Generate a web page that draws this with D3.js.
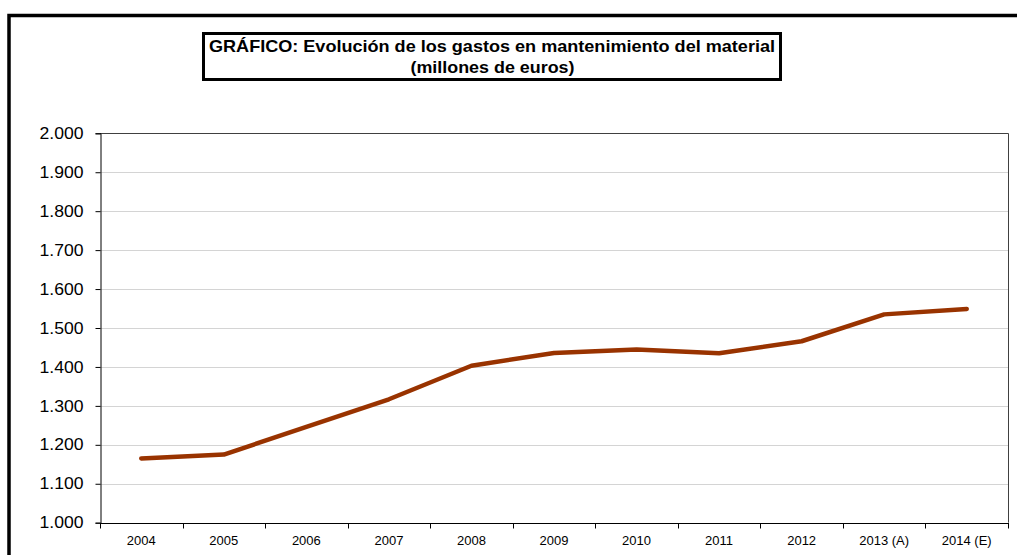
<!DOCTYPE html>
<html>
<head>
<meta charset="utf-8">
<script src="https://cdn.jsdelivr.net/npm/d3@7"></script>
<style>
  html, body { margin: 0; padding: 0; background: #fff; }
  svg { display: block; font-family: "Liberation Sans", Arial, sans-serif; }
</style>
</head>
<body>
<svg id="chart" width="1017" height="555"></svg>
<script>
const categories = ["2004", "2005", "2006", "2007", "2008", "2009", "2010", "2011", "2012", "2013 (A)", "2014 (E)"];
const values = [1165, 1175, 1246, 1317, 1403, 1436, 1445, 1435, 1466, 1535, 1549];
const yTicks = [1000, 1100, 1200, 1300, 1400, 1500, 1600, 1700, 1800, 1900, 2000];
const titleLines = ["GRÁFICO: Evolución de los gastos en mantenimiento del material", "(millones de euros)"];

const svg = d3.select("#chart");
const W = 1017, H = 555;
const plot = { left: 100, right: 1008, top: 133.3, bottom: 522.7 };

// outer frame (left & top edges visible)
svg.append("path")
  .attr("d", `M9,${H + 5} L9,15.5 L${W + 5},15.5`)
  .attr("fill", "none").attr("stroke", "#000").attr("stroke-width", 3.5);

// title box
svg.append("rect")
  .attr("x", 203.5).attr("y", 33.5).attr("width", 577).attr("height", 46)
  .attr("fill", "#fff").attr("stroke", "#000").attr("stroke-width", 3);
const title = svg.append("text")
  .attr("text-anchor", "middle")
  .attr("font-weight", "bold")
  .attr("font-size", 16.5)
  .attr("fill", "#000");
title.append("tspan").attr("x", 492).attr("y", 52)
  .attr("textLength", 566).attr("lengthAdjust", "spacingAndGlyphs").text(titleLines[0]);
title.append("tspan").attr("x", 492.5).attr("y", 73)
  .attr("textLength", 164).attr("lengthAdjust", "spacingAndGlyphs").text(titleLines[1]);

const x = d3.scaleBand().domain(categories).range([plot.left, plot.right]).padding(0);
const y = d3.scaleLinear().domain([1000, 2000]).range([plot.bottom, plot.top]);

// gridlines
svg.append("g")
  .selectAll("line")
  .data(yTicks.filter(d => d > 1000 && d < 2000))
  .join("line")
  .attr("x1", plot.left).attr("x2", plot.right)
  .attr("y1", d => Math.round(y(d)) + 0.5).attr("y2", d => Math.round(y(d)) + 0.5)
  .attr("stroke", "#d4d4d4").attr("stroke-width", 1);

// plot area border (top and right)
svg.append("path")
  .attr("d", `M${plot.left},${Math.round(plot.top) + 0.5} L${plot.right + 0.5},${Math.round(plot.top) + 0.5} L${plot.right + 0.5},${plot.bottom}`)
  .attr("fill", "none").attr("stroke", "#404040").attr("stroke-width", 1);

// y axis
const yAxis = svg.append("g")
  .attr("transform", `translate(${plot.left + 0.5},0)`)
  .call(d3.axisLeft(y).tickValues(yTicks).tickSize(5).tickPadding(12)
    .tickFormat(d => d3.format(",")(d).replace(/,/g, ".")));
yAxis.selectAll("text").attr("font-size", 16).attr("fill", "#000")
  .attr("textLength", 44).attr("lengthAdjust", "spacingAndGlyphs")
  .attr("font-family", "'Liberation Sans', Arial, sans-serif");
yAxis.selectAll("line, path").attr("stroke", "#000");

// x axis with ticks at category boundaries
const xg = svg.append("g").attr("transform", `translate(0,${Math.round(plot.bottom) + 0.5})`);
xg.append("line").attr("x1", plot.left).attr("x2", plot.right + 1).attr("stroke", "#000");
const bounds = categories.map(c => x(c)).concat([plot.right]);
xg.selectAll("line.tick").data(bounds).join("line")
  .attr("class", "tick")
  .attr("x1", d => Math.round(d) + 0.5).attr("x2", d => Math.round(d) + 0.5)
  .attr("y1", 0).attr("y2", 5).attr("stroke", "#000");
xg.selectAll("text").data(categories).join("text")
  .attr("x", d => x(d) + x.bandwidth() / 2)
  .attr("y", 12).attr("dy", "0.71em")
  .attr("text-anchor", "middle")
  .attr("font-size", 13).attr("fill", "#000")
  .text(d => d);

// data line
const line = d3.line()
  .x((d, i) => x(categories[i]) + x.bandwidth() / 2)
  .y(d => y(d));
svg.append("path")
  .datum(values)
  .attr("d", line)
  .attr("fill", "none")
  .attr("stroke", "#993300")
  .attr("stroke-width", 4.5)
  .attr("stroke-linejoin", "round")
  .attr("stroke-linecap", "round");
</script>
</body>
</html>
